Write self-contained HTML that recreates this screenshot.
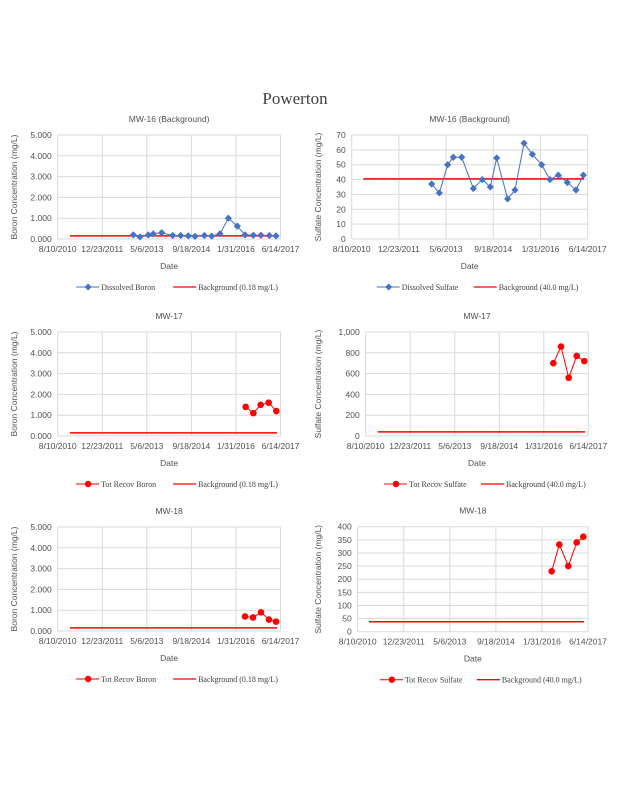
<!DOCTYPE html>
<html><head><meta charset="utf-8">
<style>
html,body{margin:0;padding:0;background:#fff;}
svg{display:block;}
.t{font-family:"Liberation Sans",sans-serif;fill:#505050;font-size:8.5px;}
.s{font-family:"Liberation Serif",serif;fill:#404040;font-size:8px;}
</style></head><body>
<svg id="c" width="618" height="800" xmlns="http://www.w3.org/2000/svg">
<text x="295" y="104" text-anchor="middle" style="font-family:'Liberation Serif',serif;font-size:17px;fill:#404040">Powerton</text>
</svg>
<script>
const svg=document.getElementById('c');let h='';
function chart(o){
 const {L,R,T,B,max,step,fmt,title,ylab,pts,col,marker,bg,bgx,leg1,leg2,ylx}=o;
 const Y=v=>B-(v/max)*(B-T);
 for(let i=0;i<=5;i++){const x=L+(R-L)*i/5;h+=`<line x1="${x}" y1="${T}" x2="${x}" y2="${B}" stroke="#d9d9d9" stroke-width="1"/>`;}
 for(let v=0;v<=max+1e-9;v+=step){const y=Y(v);h+=`<line x1="${L}" y1="${y}" x2="${R}" y2="${y}" stroke="#d9d9d9" stroke-width="1"/>`;
  h+=`<text class="t" x="${L-6}" y="${y+3}" text-anchor="end">${fmt(v)}</text>`;}
 const d=['8/10/2010','12/23/2011','5/6/2013','9/18/2014','1/31/2016','6/14/2017'];
 d.forEach((s,i)=>{const x=L+(R-L)*i/5;h+=`<text class="t" x="${x}" y="${B+13}" text-anchor="middle">${s}</text>`;});
 h+=`<text class="t" x="${(L+R)/2}" y="${T-13}" text-anchor="middle" font-size="9">${title}</text>`;
 h+=`<text class="t" x="${(L+R)/2}" y="${B+30}" text-anchor="middle" font-size="9.5">Date</text>`;
 h+=`<text class="t" transform="translate(${ylx},${(T+B)/2}) rotate(-90)" text-anchor="middle" font-size="8.5">${ylab}</text>`;
 h+=`<line x1="${bgx[0]}" y1="${Y(bg)}" x2="${bgx[1]}" y2="${Y(bg)}" stroke="#ff0000" stroke-width="1.5"/>`;
 h+=`<polyline points="${pts.map(p=>p[0]+','+Y(p[1])).join(' ')}" fill="none" stroke="${col}" stroke-width="1"/>`;
 pts.forEach(p=>{h+=marker=='d'?`<polygon points="${p[0]},${Y(p[1])-3.6} ${p[0]+3.6},${Y(p[1])} ${p[0]},${Y(p[1])+3.6} ${p[0]-3.6},${Y(p[1])}" fill="${col}"/>`:`<circle cx="${p[0]}" cy="${Y(p[1])}" r="3.3" fill="${col}"/>`;});
 const ly=B+51,cx=(L+R)/2;
 h+=`<line x1="${cx-93}" y1="${ly-3}" x2="${cx-70}" y2="${ly-3}" stroke="${col}"/>`;
 h+=marker=='d'?`<polygon points="${cx-81},${ly-6.5} ${cx-77.5},${ly-3} ${cx-81},${ly+0.5} ${cx-84.5},${ly-3}" fill="${col}"/>`:`<circle cx="${cx-81}" cy="${ly-3}" r="3.2" fill="${col}"/>`;
 h+=`<text class="s" x="${cx-68}" y="${ly}">${leg1}</text>`;
 h+=`<line x1="${cx+4}" y1="${ly-3}" x2="${cx+27}" y2="${ly-3}" stroke="#ff0000" stroke-width="1.3"/>`;
 h+=`<text class="s" x="${cx+29}" y="${ly}">${leg2}</text>`;
}
const f3=v=>v.toFixed(3), fi=v=>v>=1000?'1,000':String(Math.round(v));
chart({L:57.7,R:280.5,T:135,B:239,max:5,step:1,fmt:f3,title:'MW-16  (Background)',ylab:'Boron  Concentration (mg/L)',ylx:17,col:'#4472c4',marker:'d',bg:0.15,bgx:[70,277],
 leg1:'Dissolved Boron',leg2:'Background  (0.18 mg/L)',
 pts:[[400,.2],[420,.1],[445,.2],[460,.25],[485,.3],[518,.17],[542,.17],[565,.15],[585,.13],[613,.17],[635,.14],[660,.25],[685,1],[712,.62],[735,.2],[760,.18],[783,.18],[808,.17],[828,.15]].map(p=>[p[0]/3,p[1]])});
chart({L:351.7,R:587.7,T:135,B:239,max:70,step:10,fmt:fi,title:'MW-16  (Background)',ylab:'Sulfate  Concentration  (mg/L)',ylx:321,col:'#4472c4',marker:'d',bg:40.5,bgx:[363.3,584],
 leg1:'Dissolved Sulfate',leg2:'Background  (40.0 mg/L)',
 pts:[[365,37],[388,31],[413,50],[430,55],[455,55],[490,34],[517,40],[541,35],[560,54.5],[593,27],[615,33],[642,64.5],[667,57],[695,50],[720,40],[745,43],[772,38],[798,33],[820,43]].map(p=>[310+p[0]/3,p[1]])});
chart({L:57.7,R:280.5,T:332,B:436,max:5,step:1,fmt:f3,title:'MW-17',ylab:'Boron  Concentration (mg/L)',ylx:17,col:'#ff0000',marker:'c',bg:0.15,bgx:[70,277],
 leg1:'Tot Recov Boron',leg2:'Background  (0.18 mg/L)',
 pts:[[737,1.4],[760,1.1],[782,1.5],[806,1.6],[829,1.2]].map(p=>[p[0]/3,p[1]])});
chart({L:365.7,R:588.3,T:332,B:436,max:1000,step:200,fmt:fi,title:'MW-17',ylab:'Sulfate  Concentration (mg/L)',ylx:321,col:'#ff0000',marker:'c',bg:40,bgx:[377.7,585],
 leg1:'Tot Recov Sulfate',leg2:'Background  (40.0 mg/L)',
 pts:[[553.3,700],[561,860],[568.7,560],[576.7,770],[584.3,720]]});
chart({L:57.7,R:280.5,T:527,B:631,max:5,step:1,fmt:f3,title:'MW-18',ylab:'Boron  Concentration (mg/L)',ylx:17,col:'#ff0000',marker:'c',bg:0.15,bgx:[70,277],
 leg1:'Tot Recov Boron',leg2:'Background  (0.18 mg/L)',
 pts:[[245,.7],[253,.65],[261,.9],[269,.55],[276,.45]]});
chart({L:357.7,R:588,T:526.7,B:631.7,max:400,step:50,fmt:fi,title:'MW-18',ylab:'Sulfate  Concentration (mg/L)',ylx:321,col:'#ff0000',marker:'c',bg:38,bgx:[369,584],
 leg1:'Tot Recov Sulfate',leg2:'Background  (40.0 mg/L)',
 pts:[[725,230],[748,332],[775,250],[800,340],[820,362]].map(p=>[310+p[0]/3,p[1]])});
svg.insertAdjacentHTML('beforeend',h);
</script>
</body></html>
